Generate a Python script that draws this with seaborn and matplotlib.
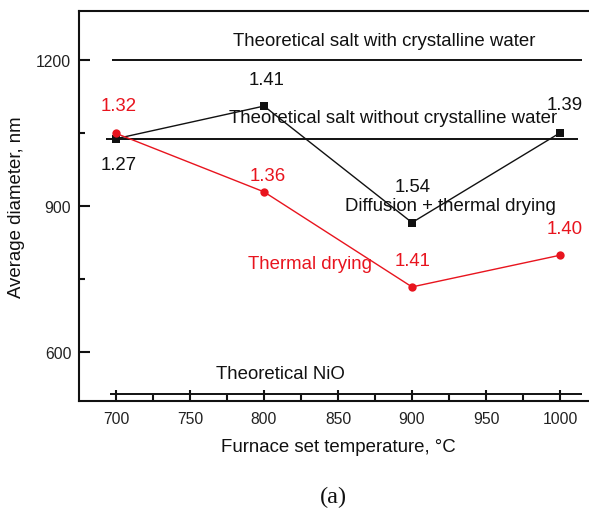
import numpy as np
import pandas as pd
import seaborn as sns
import matplotlib
matplotlib.use("Agg")
import matplotlib.pyplot as plt

# ---- data ----
temperatures = [700, 800, 900, 1000]
diffusion_thermal = [1038, 1105, 866, 1050]
thermal_drying = [1049, 929, 734, 799]
diffusion_labels = ["1.27", "1.41", "1.54", "1.39"]
thermal_labels = ["1.32", "1.36", "1.41", "1.40"]

theo_names = ["Theoretical salt with crystalline water",
              "Theoretical salt without crystalline water",
              "Theoretical NiO"]
theo_values = [1200, 1037, 515]

x_ticks = [700, 750, 800, 850, 900, 950, 1000]
y_ticks = [600, 900, 1200]

RED = "#e8141e"
BLACK = "#111111"

sns.set_theme(style="ticks")
plt.rcParams['font.family'] = ['Liberation Sans', 'DejaVu Sans']

fig = plt.figure(figsize=(5.89, 5.10), dpi=100)
ax = fig.add_axes([79/589, (510-402)/510, 518/589, 390/510])

df = pd.DataFrame({
    "T": temperatures * 2,
    "d": diffusion_thermal + thermal_drying,
    "series": ["Diffusion + thermal drying"] * 4 + ["Thermal drying"] * 4,
})
sns.lineplot(data=df[df.series == "Diffusion + thermal drying"], x="T", y="d",
             color=BLACK, lw=1.0, marker="s", markersize=5.5, markeredgewidth=0,
             ax=ax, legend=False, zorder=3)
sns.lineplot(data=df[df.series == "Thermal drying"], x="T", y="d",
             color=RED, lw=1.0, marker="o", markersize=6, markeredgewidth=0,
             ax=ax, legend=False, zorder=4)

# theoretical reference lines
extents = [(697, 1015), (693, 1012), (696, 1015)]
for v, (x0, x1) in zip(theo_values, extents):
    ax.hlines(v, x0, x1, color=BLACK, lw=1.4, zorder=2)

fs = 13.4
ax.text(881, 1240, theo_names[0], ha="center", va="center", fontsize=fs, color=BLACK)
ax.text(887, 1082, theo_names[1], ha="center", va="center", fontsize=fs, color=BLACK)
ax.text(811, 557, theo_names[2], ha="center", va="center", fontsize=fs, color=BLACK)
ax.text(926, 902, "Diffusion + thermal drying", ha="center", va="center", fontsize=fs, color=BLACK)
ax.text(831, 782, "Thermal drying", ha="center", va="center", fontsize=fs, color=RED)

# point labels
d_pos = [(702, 985), (801.5, 1160), (900.5, 940), (1003, 1108)]
t_pos = [(702, 1106), (802.5, 963), (900.5, 788), (1003, 854)]
for lab, (x, y) in zip(diffusion_labels, d_pos):
    ax.text(x, y, lab, ha="center", va="center", fontsize=fs, color=BLACK)
for lab, (x, y) in zip(thermal_labels, t_pos):
    ax.text(x, y, lab, ha="center", va="center", fontsize=fs, color=RED)

ax.set_xlim(675, 1025)
ax.set_ylim(500, 1300)
ax.set_xticks(x_ticks)
ax.set_xticks([725, 775, 825, 875, 925, 975], minor=True)
ax.set_yticks(y_ticks)
ax.set_yticks([750, 1050], minor=True)
ax.tick_params(axis="both", which="major", direction="in", length=8, width=1.5,
               labelsize=11.3, colors=BLACK, labelcolor="#222222")
ax.tick_params(axis="x", which="major", pad=7)
ax.tick_params(axis="y", which="major", pad=5.5)
ax.tick_params(axis="both", which="minor", direction="in", length=4, width=1.5,
               colors=BLACK)
for s in ["left", "bottom", "top", "right"]:
    ax.spines[s].set_linewidth(1.5)
    ax.spines[s].set_color(BLACK)

ax.set_xlabel("Furnace set temperature, \u00b0C", fontsize=fs, color=BLACK, labelpad=9)
ax.set_ylabel("Average diameter, nm", fontsize=fs, color=BLACK, labelpad=8)

fig.text(333/589, 1 - 497/510, "(a)", ha="center", va="center", fontsize=17.5,
         family="Liberation Serif", color=BLACK)

fig.savefig("out.png", dpi=100)
